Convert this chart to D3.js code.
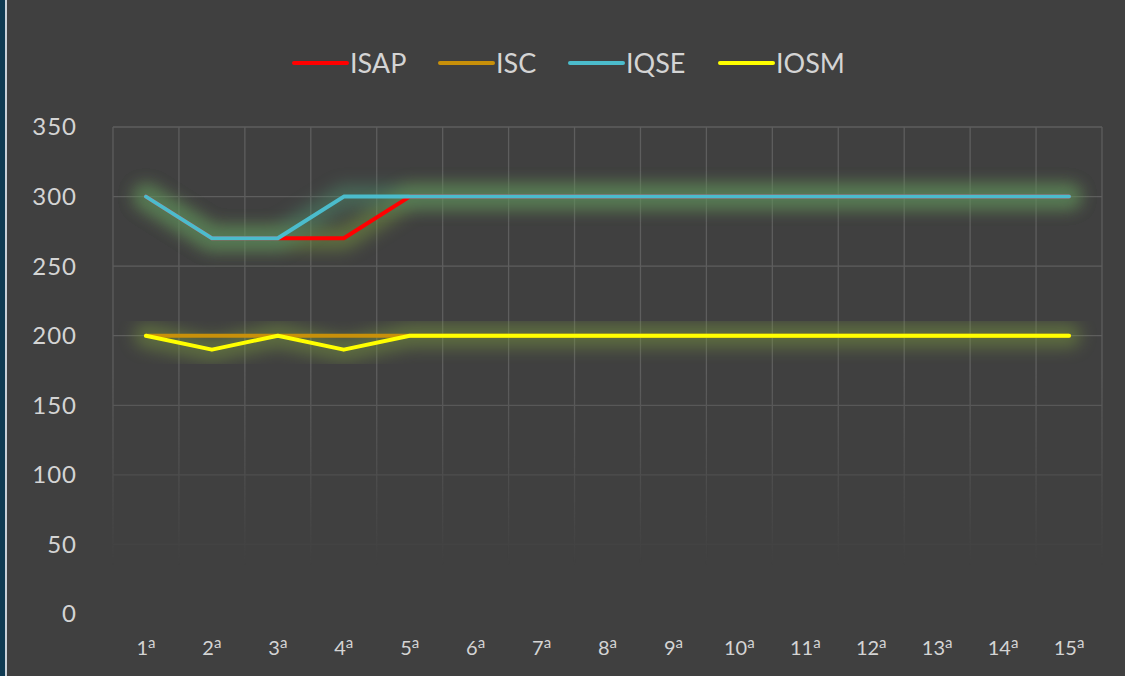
<!DOCTYPE html>
<html>
<head>
<meta charset="utf-8">
<script src="https://cdn.jsdelivr.net/npm/d3@7"></script>
<style>
  body { margin: 0; background: #404040; }
  svg { display: block; }
</style>
</head>
<body>
<svg id="chart"></svg>
<script>
/*
    DATA
*/
var categories = ["1","2","3","4","5","6","7","8","9","10","11","12","13","14","15"];
var seriesNames = ["ISAP", "ISC", "IQSE", "IOSM"];
var seriesColors = ["#ff0000", "#c8900a", "#4bbccc", "#ffff00"];
var isapValues = [300, 270, 270, 270, 300, 300, 300, 300, 300, 300, 300, 300, 300, 300, 300];
var iscValues  = [200, 200, 200, 200, 200, 200, 200, 200, 200, 200, 200, 200, 200, 200, 200];
var iqseValues = [300, 270, 270, 300, 300, 300, 300, 300, 300, 300, 300, 300, 300, 300, 300];
var iosmValues = [200, 190, 200, 190, 200, 200, 200, 200, 200, 200, 200, 200, 200, 200, 200];
var yTicks = [0, 50, 100, 150, 200, 250, 300, 350];

/*
    LAYOUT
*/
var width = 1125, height = 676;
var margin = {top: 127, right: 23, bottom: 62, left: 113};
var w = width - margin.left - margin.right;
var h = height - margin.top - margin.bottom;
var labelFont = "Lato, 'Open Sans', sans-serif";

var svg = d3.select("#chart").attr("width", width).attr("height", height);

svg.append("rect").attr("width", width).attr("height", height).attr("fill", "#404040");
// left frame strip
svg.append("rect").attr("x", 0).attr("y", 0).attr("width", 5).attr("height", height).attr("fill", "#0e3a52");
svg.append("rect").attr("x", 5).attr("y", 0).attr("width", 2).attr("height", height).attr("fill", "#c8d0d8");

var defs = svg.append("defs");
var glow = defs.append("filter").attr("id", "glow")
    .attr("x", "-10%").attr("y", "-100%").attr("width", "120%").attr("height", "300%");
glow.append("feGaussianBlur").attr("stdDeviation", 8);

// grid fades out toward the bottom
var fade = defs.append("linearGradient").attr("id", "fade")
    .attr("gradientUnits", "userSpaceOnUse")
    .attr("x1", 0).attr("y1", margin.top).attr("x2", 0).attr("y2", margin.top + h);
fade.append("stop").attr("offset", "0.5").attr("stop-color", "#fff").attr("stop-opacity", 1);
fade.append("stop").attr("offset", "0.9").attr("stop-color", "#fff").attr("stop-opacity", 0);
defs.append("mask").attr("id", "gridMask")
  .append("rect").attr("x", 0).attr("y", 0).attr("width", width).attr("height", height).attr("fill", "url(#fade)");

var x = d3.scaleBand().domain(categories).range([0, w]);
var y = d3.scaleLinear().domain([0, 350]).range([h, 0]);

// gridlines (drawn first, under the lines)
var grid = svg.append("g").attr("mask", "url(#gridMask)")
  .append("g").attr("transform", "translate(" + margin.left + "," + margin.top + ")");
grid.selectAll(".hgrid").data(yTicks.filter(function(d) { return d > 0; }))
  .enter().append("line")
    .attr("x1", 0).attr("x2", w)
    .attr("y1", function(d) { return y(d); }).attr("y2", function(d) { return y(d); })
    .attr("stroke", "#5e5e5e").attr("stroke-width", 1.3);
grid.selectAll(".vgrid").data(categories.concat(["end"]))
  .enter().append("line")
    .attr("x1", function(d, i) { return i < categories.length ? x(d) : w; })
    .attr("x2", function(d, i) { return i < categories.length ? x(d) : w; })
    .attr("y1", 0).attr("y2", h)
    .attr("stroke", "#5e5e5e").attr("stroke-width", 1.3);

var g = svg.append("g").attr("transform", "translate(" + margin.left + "," + margin.top + ")");

// y axis labels
g.selectAll(".ylab").data(yTicks).enter().append("text")
  .attr("x", -36).attr("y", function(d) { return y(d); }).attr("dy", "0.35em")
  .attr("text-anchor", "end")
  .attr("font-family", labelFont).attr("font-size", 24)
  .attr("letter-spacing", 1)
  .attr("fill", "#d4d4d4")
  .text(function(d) { return d; });

// x axis labels
var xl = g.selectAll(".xlab").data(categories).enter().append("text")
  .attr("x", function(d) { return x(d) + x.bandwidth() / 2; })
  .attr("y", h + 41)
  .attr("text-anchor", "middle")
  .attr("font-family", labelFont).attr("font-size", 20)
  .attr("fill", "#d4d4d4");
xl.append("tspan").text(function(d) { return d; });
xl.append("tspan").attr("dy", -7).attr("font-size", 15).text("a");

var line = d3.line()
  .x(function(d, i) { return x(categories[i]) + x.bandwidth() / 2; })
  .y(function(d) { return y(d); });

var allSeries = [isapValues, iscValues, iqseValues, iosmValues];

// soft glow under each line
g.selectAll(".glow").data(allSeries).enter().append("path")
  .attr("d", line).attr("fill", "none")
  .attr("stroke", function(d, i) { return i === 2 ? "#4f8a6a" : "#7a9a40"; })
  .attr("stroke-width", 24)
  .attr("stroke-linejoin", "round").attr("stroke-linecap", "round")
  .attr("opacity", 0.5).attr("filter", "url(#glow)");

// lines
g.selectAll(".series").data(allSeries).enter().append("path")
  .attr("d", line).attr("fill", "none")
  .attr("stroke", function(d, i) { return seriesColors[i]; })
  .attr("stroke-width", 4)
  .attr("stroke-linejoin", "round").attr("stroke-linecap", "round");

// legend
var legendX = [294, 440, 570, 720];
var legend = svg.selectAll(".legend").data(seriesNames).enter().append("g")
  .attr("transform", function(d, i) { return "translate(" + legendX[i] + ",63)"; });
legend.append("line").attr("x1", 0).attr("x2", 53).attr("y1", 0).attr("y2", 0)
  .attr("stroke", function(d, i) { return seriesColors[i]; }).attr("stroke-width", 4)
  .attr("stroke-linecap", "round");
legend.append("text").attr("x", 56).attr("dy", "0.36em")
  .attr("font-family", labelFont).attr("font-size", 27)
  .attr("fill", "#d4d4d4")
  .text(function(d) { return d; });
</script>
</body>
</html>
